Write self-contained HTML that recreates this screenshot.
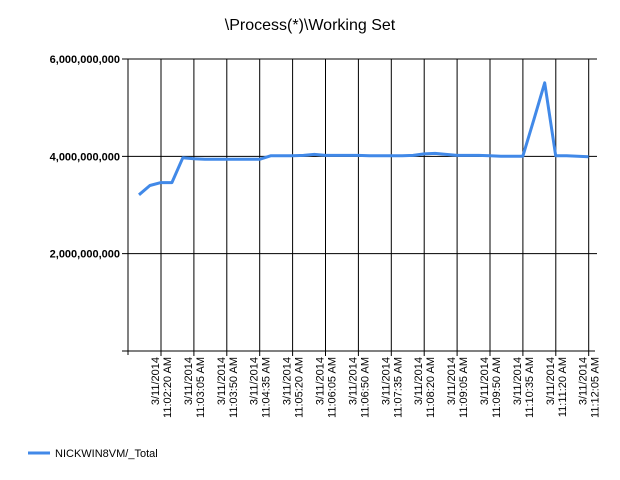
<!DOCTYPE html>
<html><head><meta charset="utf-8"><style>
body{margin:0;background:#fff;}
svg{display:block;font-family:"Liberation Sans",Arial,sans-serif;}
</style></head><body>
<svg id="chart" width="620" height="480">
<text x="310" y="30" text-anchor="middle" font-size="16">\Process(*)\Working Set</text>
<g id="grid"></g><g id="series"></g><g id="labels"></g>
<g>
<line x1="28" y1="453" x2="50" y2="453" stroke="#4189e8" stroke-width="3"/>
<text x="55" y="457" font-size="11">NICKWIN8VM/_Total</text>
</g>
</svg>
<script>
const yTicks=[2e9,4e9,6e9];
const yTickLabels=["2,000,000,000","4,000,000,000","6,000,000,000"];
const xDates=["3/11/2014","3/11/2014","3/11/2014","3/11/2014","3/11/2014","3/11/2014","3/11/2014","3/11/2014","3/11/2014","3/11/2014","3/11/2014","3/11/2014","3/11/2014","3/11/2014"];
const xTimes=["11:02:20 AM","11:03:05 AM","11:03:50 AM","11:04:35 AM","11:05:20 AM","11:06:05 AM","11:06:50 AM","11:07:35 AM","11:08:20 AM","11:09:05 AM","11:09:50 AM","11:10:35 AM","11:11:20 AM","11:12:05 AM"];
const values=[3.21,3.40,3.46,3.46,3.97,3.95,3.94,3.94,3.94,3.94,3.94,3.94,4.01,4.01,4.01,4.02,4.04,4.02,4.02,4.02,4.02,4.01,4.01,4.01,4.01,4.02,4.05,4.06,4.04,4.02,4.02,4.02,4.01,4.00,4.00,4.00,4.75,5.51,4.01,4.01,4.00,3.99].map(v=>v*1e9);
const NS="http://www.w3.org/2000/svg";
const X0=128,Y0=351,YTOP=59,GSTEP=32.9;
const yScale=v=>Y0-(v/6e9)*(Y0-YTOP);
const xGrid=i=>161+GSTEP*i;
const xPoint=k=>X0+(GSTEP/3)*(k+1);
function mk(tag,attrs,parent){const e=document.createElementNS(NS,tag);for(const k in attrs)e.setAttribute(k,attrs[k]);parent.appendChild(e);return e;}
const grid=document.getElementById('grid'),lab=document.getElementById('labels'),ser=document.getElementById('series');
let ax=mk('line',{x1:X0,y1:YTOP,x2:X0,y2:Y0+4,stroke:'#000'},grid);


let bx=mk('line',{x1:122,y1:Y0,x2:595,y2:Y0,stroke:'#000'},grid);


yTicks.forEach((v,i)=>{const y=yScale(v);
 const l=mk('line',{x1:122,y1:y,x2:597,y2:y,stroke:'#000'},grid);
 
 
 const t=mk('text',{x:120,y:y+4,'text-anchor':'end','font-size':'11','font-weight':'bold'},lab);
 t.textContent=yTickLabels[i];
 
 
});
xTimes.forEach((tm,i)=>{const x=xGrid(i);
 const l=mk('line',{x1:x,y1:YTOP,x2:x,y2:Y0+5,stroke:'#000'},grid);
 
 
 const g=mk('g',{transform:`translate(${x},357) rotate(-90)`},lab);
 
 
 const a=mk('text',{x:0,y:-2,'text-anchor':'end','font-size':'11'},g);a.textContent=xDates[i];
 const b=mk('text',{x:0,y:10,'text-anchor':'end','font-size':'11'},g);b.textContent=tm;
});
const p=mk('polyline',{points:values.map((v,k)=>xPoint(k).toFixed(1)+','+yScale(v).toFixed(1)).join(' '),fill:'none',stroke:'#4189e8','stroke-width':'3','stroke-linejoin':'round'},ser);


</script>
</body></html>
